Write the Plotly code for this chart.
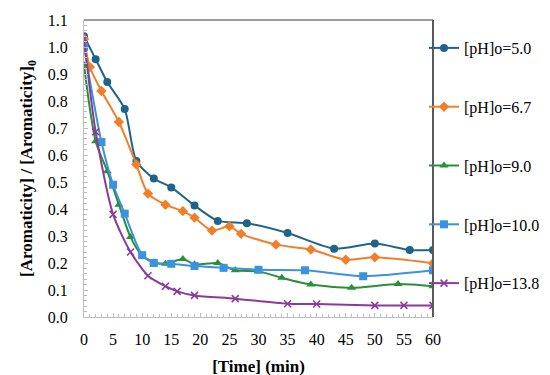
import plotly.graph_objects as go

# ---- data ----
t_50 = [0, 2, 4, 7, 9, 12, 15, 19, 23, 28, 35, 43, 50, 56, 60]
y_50 = [1.04, 0.955, 0.87, 0.77, 0.578, 0.513, 0.48, 0.413, 0.356, 0.347, 0.311, 0.253, 0.272, 0.248, 0.248]

t_67 = [0, 1, 3, 6, 9, 11, 14, 17, 19, 22, 25, 27, 33, 39, 45, 50, 60]
y_67 = [1.03, 0.926, 0.837, 0.722, 0.565, 0.457, 0.416, 0.392, 0.368, 0.32, 0.336, 0.308, 0.268, 0.25, 0.212, 0.221, 0.199]

t_90 = [0, 2, 4, 6, 8, 10, 12, 14, 17, 19, 23, 26, 30, 34, 39, 46, 54, 60]
y_90 = [0.933, 0.651, 0.54, 0.416, 0.296, 0.228, 0.203, 0.197, 0.215, 0.195, 0.2, 0.173, 0.169, 0.145, 0.12, 0.108, 0.122, 0.114]

t_100 = [0, 3, 5, 7, 10, 12, 15, 19, 24, 30, 38, 48, 60]
y_100 = [1.0, 0.648, 0.49, 0.383, 0.229, 0.2, 0.197, 0.189, 0.182, 0.175, 0.173, 0.151, 0.173]

t_138 = [0, 2, 5, 8, 11, 14, 16, 19, 26, 35, 40, 50, 55, 60]
y_138 = [1.03, 0.686, 0.38, 0.241, 0.153, 0.114, 0.095, 0.08, 0.068, 0.049, 0.048, 0.043, 0.043, 0.043]

names = ["[pH]o=5.0", "[pH]o=6.7", "[pH]o=9.0", "[pH]o=10.0", "[pH]o=13.8"]
x_ticks = [0, 5, 10, 15, 20, 25, 30, 35, 40, 45, 50, 55, 60]
y_ticks = [0.0, 0.1, 0.2, 0.3, 0.4, 0.5, 0.6, 0.7, 0.8, 0.9, 1.0, 1.1]

series = [
    (t_50, y_50, "#1f6488", "circle", 8),
    (t_67, y_67, "#f07f2a", "diamond", 8),
    (t_90, y_90, "#2a9038", "triangle-up", 8),
    (t_100, y_100, "#3a93dc", "square", 8),
    (t_138, y_138, "#8b3a9b", "x-thin-open", 7),
]

fig = go.Figure()
for i, (tx, ty, col, sym, sz) in enumerate(series):
    fig.add_trace(go.Scatter(
        x=tx, y=ty, name=names[i], mode="lines+markers",
        legendgroup=str(i),
        line=dict(color=col, width=2, shape="spline", smoothing=0.7),
        marker=dict(symbol=sym, size=sz, color=col,
                    line=dict(color=col, width=1.5 if "open" in sym else 0)),
    ))

font = "Liberation Serif, Times New Roman, serif"
W, H = 550, 375

fig.update_layout(
    width=W, height=H,
    margin=dict(l=0, r=0, t=0, b=0, autoexpand=False),
    paper_bgcolor="white", plot_bgcolor="white",
    font=dict(family=font, size=16, color="black"),
    showlegend=True,
    legend=dict(x=416 / W, xanchor="left", y=1 - 23 / H, yanchor="top",
                font=dict(family=font, size=16, color="black"),
                tracegroupgap=35, itemwidth=30, bgcolor="rgba(0,0,0,0)"),
    xaxis=dict(
        domain=[76 / W, 425 / W],
        range=[0, 60], tickvals=x_ticks, ticktext=[str(v) for v in x_ticks],
        showgrid=False, zeroline=False, showline=True, linecolor="#bdbdbd", linewidth=1,
        ticks="inside", ticklen=4, tickcolor="#bdbdbd",
        minor=dict(dtick=1, ticks="inside", ticklen=3, tickcolor="#bdbdbd"),
        ticklabelstandoff=8, automargin=False,
        title=dict(text="<b>[Time] (min)</b>", font=dict(family=font, size=17), standoff=12),
    ),
    yaxis=dict(
        domain=[(H - 309) / H, (H - 12) / H],
        range=[0, 1.1], tickvals=y_ticks, ticktext=["%.1f" % v for v in y_ticks],
        showgrid=False, zeroline=False, showline=True, linecolor="#bdbdbd", linewidth=1,
        ticks="inside", ticklen=4, tickcolor="#bdbdbd",
        minor=dict(dtick=0.02, ticks="inside", ticklen=3, tickcolor="#bdbdbd"),
        ticklabelstandoff=12, automargin=False,
        title=dict(text="<b>[Aromaticity] / [Aromaticity]<sub>0</sub></b>",
                   font=dict(family=font, size=17), standoff=10),
    ),
)

# top and right plot-area border
fig.add_shape(type="line", xref="x domain", yref="y domain", x0=0, x1=1, y0=1, y1=1,
              line=dict(color="#7a7a7a", width=1.5))
fig.add_shape(type="line", xref="x domain", yref="y domain", x0=1, x1=1, y0=0, y1=1,
              line=dict(color="#5a5a5a", width=2))

fig.write_html("out.html")
